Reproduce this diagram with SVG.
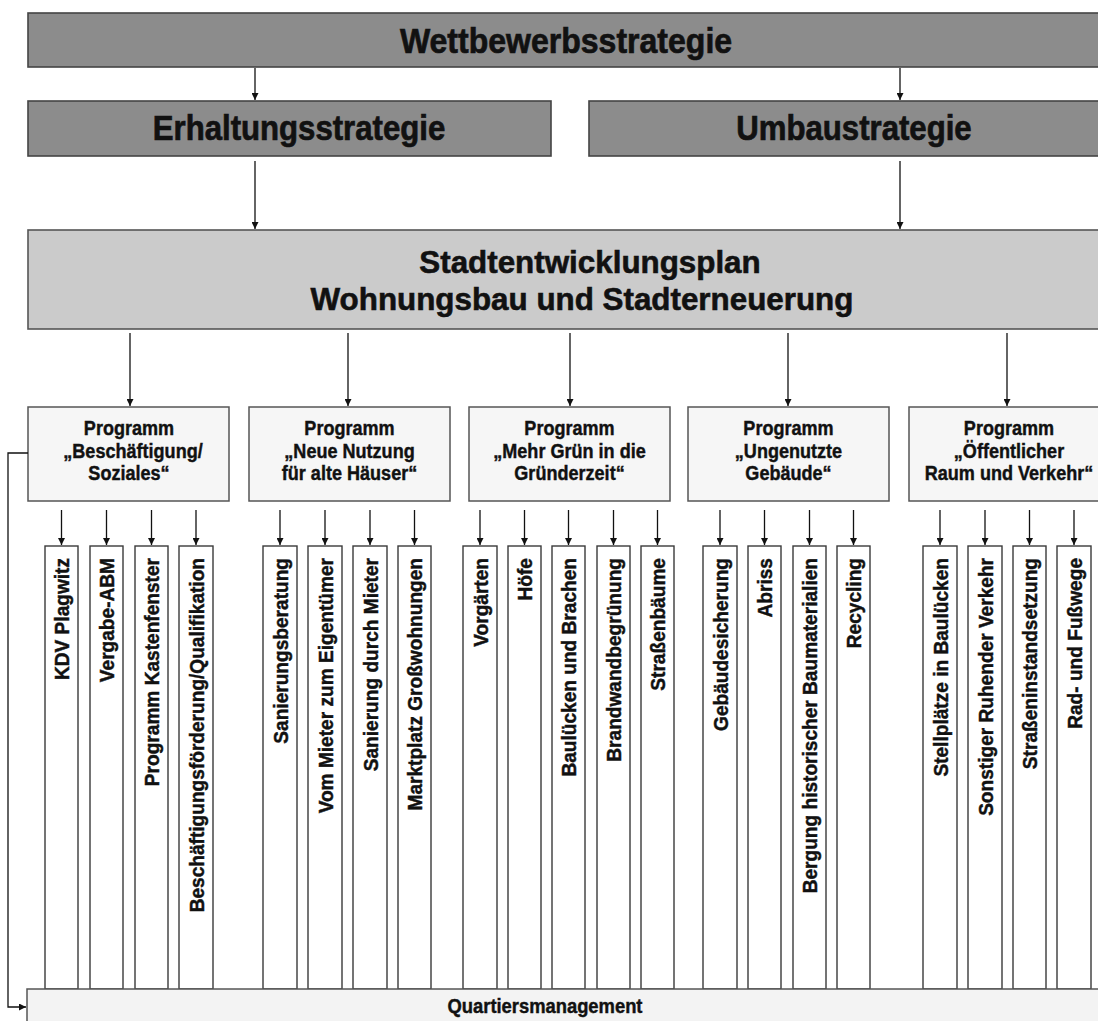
<svg xmlns="http://www.w3.org/2000/svg" width="1098" height="1021" viewBox="0 0 1098 1021">
<style>
text{font-family:"Liberation Sans",Arial,"DejaVu Sans",sans-serif;font-weight:bold;fill:#111;stroke:#111;stroke-width:0.45}
.big{font-size:36px;text-anchor:middle;stroke-width:0.7}
.sep{font-size:32px;text-anchor:middle;stroke-width:0.6}
.prg{font-size:21px;text-anchor:middle}
.col{font-size:21px;text-anchor:end}
.qmt{font-size:21px;text-anchor:middle}
.dark{fill:#8c8c8c;stroke:#444;stroke-width:1.6}
.light{fill:#cbcbcb;stroke:#555;stroke-width:1.6}
.box{fill:#f6f6f6;stroke:#555;stroke-width:1.5}
.cb{fill:#fff;stroke:#3a3a3a;stroke-width:1.4}
.qm{fill:#f3f3f3;stroke:#555;stroke-width:1.5}
.ln{fill:none;stroke:#111;stroke-width:1.3}
</style>
<defs>
<marker id="ah" viewBox="0 0 10 10" refX="10" refY="5" markerWidth="10" markerHeight="7" markerUnits="userSpaceOnUse" orient="auto">
<path d="M0,0 L10,5 L0,10 z" fill="#111"/>
</marker>
</defs>
<rect width="1098" height="1021" fill="#fff"/>

<g id="wettbewerbsstrategie">
<rect class="dark" x="28" y="13" width="1090" height="54"/>
<text class="big" transform="translate(566 53) scale(.89 1)">Wettbewerbsstrategie</text>
</g>
<g id="erhaltungsstrategie">
<rect class="dark" x="28" y="101" width="523" height="55"/>
<text class="big" style="font-size:35px" transform="translate(299 140) scale(.89 1)">Erhaltungsstrategie</text>
</g>
<g id="umbaustrategie">
<rect class="dark" x="589" y="101" width="530" height="55"/>
<text class="big" style="font-size:35px" transform="translate(854 140) scale(.89 1)">Umbaustrategie</text>
</g>
<g id="stadtentwicklungsplan">
<rect class="light" x="28" y="230" width="1090" height="99"/>
<text class="sep" transform="translate(590 273) scale(.98 1)">Stadtentwicklungsplan</text>
<text class="sep" transform="translate(582 310) scale(.98 1)">Wohnungsbau und Stadterneuerung</text>
</g>

<g id="prog-beschaeftigung">
<rect class="box" x="28" y="407" width="201" height="94"/>
<text class="prg" transform="translate(129 435) scale(.86 1)">Programm</text>
<text class="prg" transform="translate(133 458) scale(.86 1)">„Beschäftigung/</text>
<text class="prg" transform="translate(129 480) scale(.86 1)">Soziales“</text>
</g>
<g id="prog-neue-nutzung">
<rect class="box" x="249" y="407" width="201" height="94"/>
<text class="prg" transform="translate(349.5 435) scale(.86 1)">Programm</text>
<text class="prg" transform="translate(349.5 458) scale(.86 1)">„Neue Nutzung</text>
<text class="prg" transform="translate(349.5 480) scale(.86 1)">für alte Häuser“</text>
</g>
<g id="prog-mehr-gruen">
<rect class="box" x="469" y="407" width="201" height="94"/>
<text class="prg" transform="translate(569.5 435) scale(.86 1)">Programm</text>
<text class="prg" transform="translate(569.5 458) scale(.86 1)">„Mehr Grün in die</text>
<text class="prg" transform="translate(569.5 480) scale(.86 1)">Gründerzeit“</text>
</g>
<g id="prog-ungenutzte">
<rect class="box" x="688" y="407" width="201" height="94"/>
<text class="prg" transform="translate(788.5 435) scale(.86 1)">Programm</text>
<text class="prg" transform="translate(788.5 458) scale(.86 1)">„Ungenutzte</text>
<text class="prg" transform="translate(788.5 480) scale(.86 1)">Gebäude“</text>
</g>
<g id="prog-oeffentlicher">
<rect class="box" x="909" y="407" width="201" height="94"/>
<text class="prg" transform="translate(1009 435) scale(.86 1)">Programm</text>
<text class="prg" transform="translate(1009 458) scale(.86 1)">„Öffentlicher</text>
<text class="prg" transform="translate(1009 480) scale(.86 1)">Raum und Verkehr“</text>
</g>

<g id="c1"><rect class="cb" x="45" y="546" width="33" height="443"/><text class="col" transform="translate(69 558) rotate(-90) scale(.91 1)">KDV Plagwitz</text></g>
<g id="c2"><rect class="cb" x="90" y="546" width="33" height="443"/><text class="col" transform="translate(114 558) rotate(-90) scale(.91 1)">Vergabe-ABM</text></g>
<g id="c3"><rect class="cb" x="135" y="546" width="33" height="443"/><text class="col" transform="translate(159 558) rotate(-90) scale(.91 1)">Programm Kastenfenster</text></g>
<g id="c4"><rect class="cb" x="179" y="546" width="34" height="443"/><text class="col" transform="translate(203.5 558) rotate(-90) scale(.91 1)">Beschäftigungsförderung/Qualifikation</text></g>
<g id="c5"><rect class="cb" x="263" y="546" width="34" height="443"/><text class="col" transform="translate(287.5 558) rotate(-90) scale(.91 1)">Sanierungsberatung</text></g>
<g id="c6"><rect class="cb" x="308" y="546" width="34" height="443"/><text class="col" transform="translate(332.5 558) rotate(-90) scale(.91 1)">Vom Mieter zum Eigentümer</text></g>
<g id="c7"><rect class="cb" x="353" y="546" width="34" height="443"/><text class="col" transform="translate(377.5 558) rotate(-90) scale(.91 1)">Sanierung durch Mieter</text></g>
<g id="c8"><rect class="cb" x="398" y="546" width="33" height="443"/><text class="col" transform="translate(422 558) rotate(-90) scale(.91 1)">Marktplatz Großwohnungen</text></g>
<g id="c9"><rect class="cb" x="463" y="546" width="34" height="443"/><text class="col" transform="translate(487.5 558) rotate(-90) scale(.91 1)">Vorgärten</text></g>
<g id="c10"><rect class="cb" x="508" y="546" width="33" height="443"/><text class="col" transform="translate(532 558) rotate(-90) scale(.91 1)">Höfe</text></g>
<g id="c11"><rect class="cb" x="552" y="546" width="33" height="443"/><text class="col" transform="translate(576 558) rotate(-90) scale(.91 1)">Baulücken und Brachen</text></g>
<g id="c12"><rect class="cb" x="597" y="546" width="33" height="443"/><text class="col" transform="translate(621 558) rotate(-90) scale(.91 1)">Brandwandbegrünung</text></g>
<g id="c13"><rect class="cb" x="641" y="546" width="33" height="443"/><text class="col" transform="translate(665 558) rotate(-90) scale(.91 1)">Straßenbäume</text></g>
<g id="c14"><rect class="cb" x="703" y="546" width="34" height="443"/><text class="col" transform="translate(727.5 558) rotate(-90) scale(.91 1)">Gebäudesicherung</text></g>
<g id="c15"><rect class="cb" x="748" y="546" width="33" height="443"/><text class="col" transform="translate(772 558) rotate(-90) scale(.91 1)">Abriss</text></g>
<g id="c16"><rect class="cb" x="793" y="546" width="33" height="443"/><text class="col" transform="translate(817 558) rotate(-90) scale(.91 1)">Bergung historischer Baumaterialien</text></g>
<g id="c17"><rect class="cb" x="837" y="546" width="33" height="443"/><text class="col" transform="translate(861 558) rotate(-90) scale(.91 1)">Recycling</text></g>
<g id="c18"><rect class="cb" x="923" y="546" width="34" height="443"/><text class="col" transform="translate(947.5 558) rotate(-90) scale(.91 1)">Stellplätze in Baulücken</text></g>
<g id="c19"><rect class="cb" x="968" y="546" width="34" height="443"/><text class="col" transform="translate(992.5 558) rotate(-90) scale(.91 1)">Sonstiger Ruhender Verkehr</text></g>
<g id="c20"><rect class="cb" x="1013" y="546" width="33" height="443"/><text class="col" transform="translate(1037 558) rotate(-90) scale(.91 1)">Straßeninstandsetzung</text></g>
<g id="c21"><rect class="cb" x="1057" y="546" width="34" height="443"/><text class="col" transform="translate(1081.5 558) rotate(-90) scale(.91 1)">Rad- und Fußwege</text></g>

<g id="quartiersmanagement">
<rect class="qm" x="27" y="989" width="1090" height="40"/>
<text class="qmt" transform="translate(545 1013) scale(.875 1)">Quartiersmanagement</text>
</g>

<g id="connectors" class="ln" marker-end="url(#ah)">
<line x1="255" y1="68" x2="255" y2="100"/>
<line x1="900" y1="68" x2="900" y2="100"/>
<line x1="255" y1="161" x2="255" y2="229"/>
<line x1="900" y1="161" x2="900" y2="229"/>
<line x1="130" y1="333" x2="130" y2="406"/>
<line x1="348" y1="333" x2="348" y2="406"/>
<line x1="570" y1="333" x2="570" y2="406"/>
<line x1="788" y1="333" x2="788" y2="406"/>
<line x1="1007" y1="333" x2="1007" y2="406"/>
<line x1="61.5" y1="510" x2="61.5" y2="545"/>
<line x1="106.5" y1="510" x2="106.5" y2="545"/>
<line x1="151.5" y1="510" x2="151.5" y2="545"/>
<line x1="196" y1="510" x2="196" y2="545"/>
<line x1="280" y1="510" x2="280" y2="545"/>
<line x1="325" y1="510" x2="325" y2="545"/>
<line x1="370" y1="510" x2="370" y2="545"/>
<line x1="414.5" y1="510" x2="414.5" y2="545"/>
<line x1="480" y1="510" x2="480" y2="545"/>
<line x1="524.5" y1="510" x2="524.5" y2="545"/>
<line x1="568.5" y1="510" x2="568.5" y2="545"/>
<line x1="613.5" y1="510" x2="613.5" y2="545"/>
<line x1="657.5" y1="510" x2="657.5" y2="545"/>
<line x1="720" y1="510" x2="720" y2="545"/>
<line x1="764.5" y1="510" x2="764.5" y2="545"/>
<line x1="809.5" y1="510" x2="809.5" y2="545"/>
<line x1="853.5" y1="510" x2="853.5" y2="545"/>
<line x1="940" y1="510" x2="940" y2="545"/>
<line x1="985" y1="510" x2="985" y2="545"/>
<line x1="1029.5" y1="510" x2="1029.5" y2="545"/>
<line x1="1074" y1="510" x2="1074" y2="545"/>
<path d="M28,453 H8 V1007 H26"/>
</g>
</svg>
